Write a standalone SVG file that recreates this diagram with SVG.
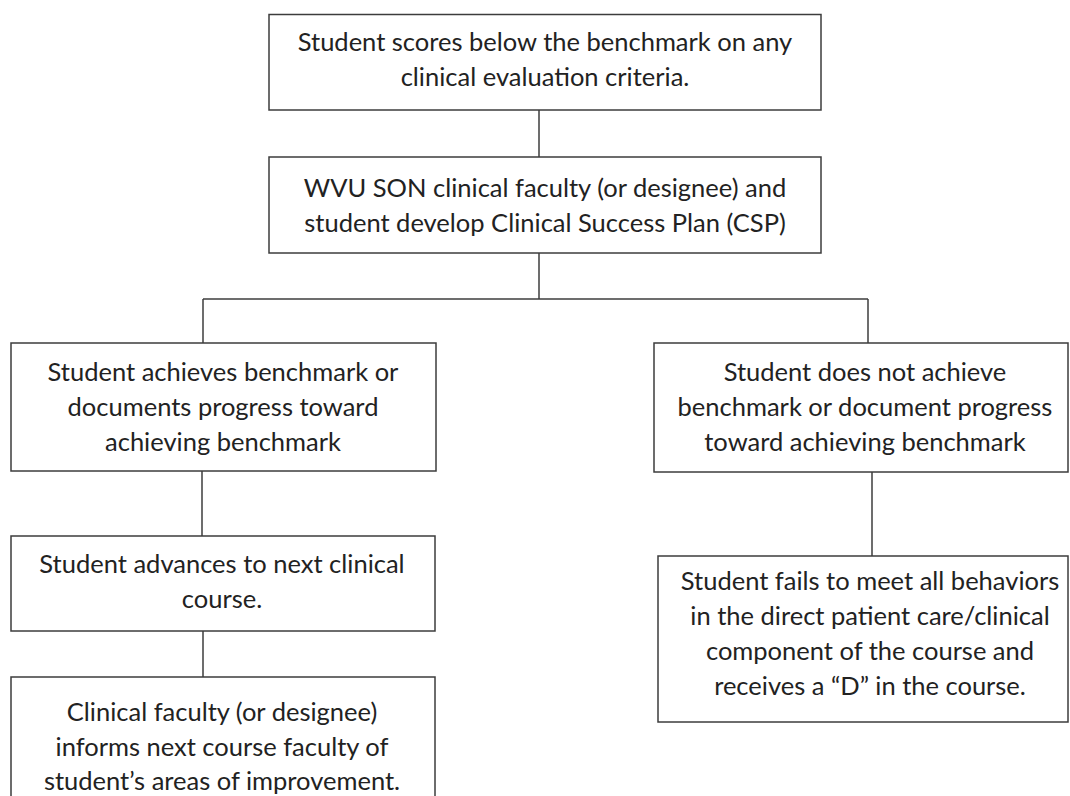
<svg xmlns="http://www.w3.org/2000/svg" width="1070" height="796" viewBox="0 0 1070 796">
<style>
.box{fill:#ffffff;stroke:#3c3c3c;stroke-width:1.5}
.conn{stroke:#3c3c3c;stroke-width:1.5;fill:none}
text{font-family:Lato,"Open Sans","Liberation Sans",sans-serif;font-size:25.5px;fill:#222222;text-anchor:middle}
</style>
<rect width="1070" height="796" fill="#ffffff"/>
<g id="connectors">
<line class="conn" x1="539" y1="110" x2="539" y2="157"/>
<line class="conn" x1="539" y1="253" x2="539" y2="299"/>
<line class="conn" x1="203" y1="299" x2="868" y2="299"/>
<line class="conn" x1="203" y1="299" x2="203" y2="343"/>
<line class="conn" x1="868" y1="299" x2="868" y2="343"/>
<line class="conn" x1="202" y1="471" x2="202" y2="536"/>
<line class="conn" x1="203" y1="631" x2="203" y2="677"/>
<line class="conn" x1="872" y1="472" x2="872" y2="556"/>
</g>
<g id="n1">
<rect class="box" x="269" y="14.5" width="552" height="95.5"/>
<text x="545" y="51">Student scores below the benchmark on any</text>
<text x="545" y="86">clinical evaluation criteria.</text>
</g>
<g id="n2">
<rect class="box" x="269" y="157" width="552" height="96"/>
<text x="545" y="197">WVU SON clinical faculty (or designee) and</text>
<text x="545" y="232">student develop Clinical Success Plan (CSP)</text>
</g>
<g id="n3">
<rect class="box" x="11" y="343" width="425" height="128"/>
<text x="223" y="381">Student achieves benchmark or</text>
<text x="223" y="416">documents progress toward</text>
<text x="223" y="451">achieving benchmark</text>
</g>
<g id="n4">
<rect class="box" x="654" y="343" width="414" height="129"/>
<text x="865" y="381">Student does not achieve</text>
<text x="865" y="416">benchmark or document progress</text>
<text x="865" y="451">toward achieving benchmark</text>
</g>
<g id="n5">
<rect class="box" x="11" y="536" width="424" height="95"/>
<text x="222" y="573">Student advances to next clinical</text>
<text x="222" y="608">course.</text>
</g>
<g id="n6">
<rect class="box" x="11" y="677" width="424" height="130"/>
<text x="222" y="721">Clinical faculty (or designee)</text>
<text x="222" y="755.5">informs next course faculty of</text>
<text x="222" y="789.5">student’s areas of improvement.</text>
</g>
<g id="n7">
<rect class="box" x="658" y="556" width="410" height="166"/>
<text x="870" y="590">Student fails to meet all behaviors</text>
<text x="870" y="625">in the direct patient care/clinical</text>
<text x="870" y="660">component of the course and</text>
<text x="870" y="695">receives a “D” in the course.</text>
</g>
</svg>
